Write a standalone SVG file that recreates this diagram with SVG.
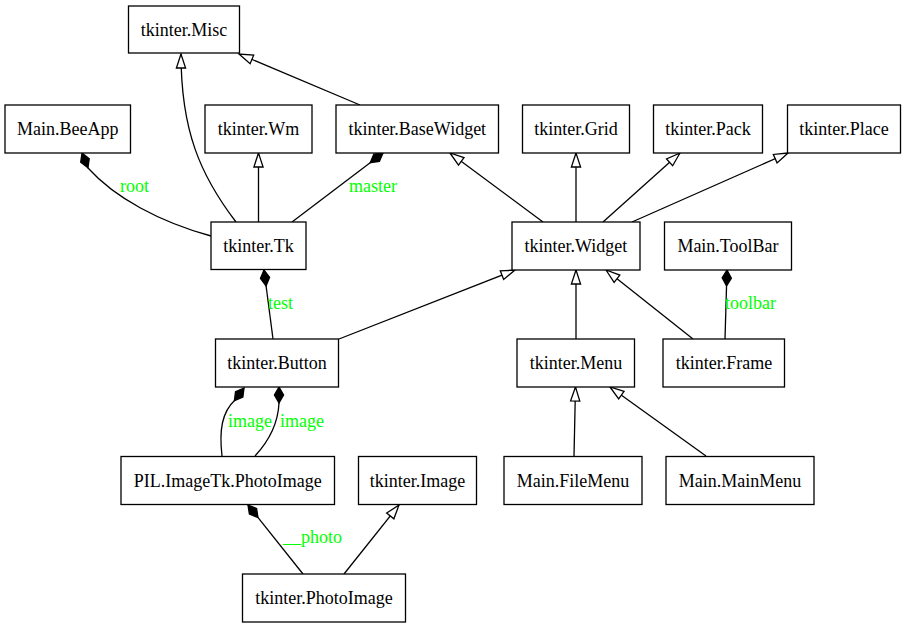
<svg xmlns="http://www.w3.org/2000/svg" width="906" height="628" viewBox="0 0 906 628">
<style>
.n rect{fill:#fff;stroke:#000;stroke-width:1.3}
.n text{font-size:18px;fill:#000;text-anchor:middle}
.e path{fill:none;stroke:#000;stroke-width:1.3}
.inh{marker-end:url(#tri)}
.comp{marker-end:url(#dia)}
.lbl{font-size:18px;fill:#00ff00}
</style>
<defs>
<marker id="tri" markerUnits="userSpaceOnUse" markerWidth="18" markerHeight="12" viewBox="-16 -6 18 12" refX="0" refY="0" orient="auto" overflow="visible">
<path d="M0,0 L-14,-4.6 L-14,4.6 Z" fill="#fff" stroke="#000" stroke-width="1.3"/>
</marker>
<marker id="dia" markerUnits="userSpaceOnUse" markerWidth="18" markerHeight="12" viewBox="-17 -6 18 12" refX="0" refY="0" orient="auto" overflow="visible">
<path d="M0,0 L-8,-4.6 L-16,0 L-8,4.6 Z" fill="#000" stroke="#000" stroke-width="1.3"/>
</marker>
</defs>
<rect width="906" height="628" fill="#fff"/>
<g font-family="Liberation Serif, Times New Roman, DejaVu Serif, serif">
<g id="edges" class="e">
<path class="inh" d="M236,222 C200,175 181,130 181,54"/>
<path class="inh" d="M360,105 L239,54"/>
<path class="inh" d="M258.5,222 L258.5,153"/>
<path class="comp" d="M211,236 C160,222 115,198 88,168 L82,153"/>
<path class="comp" d="M292,222 L383,153"/>
<path class="comp" d="M273,339 L264,270"/>
<path class="inh" d="M543,222 L450,153"/>
<path class="inh" d="M576,222 L576,153"/>
<path class="inh" d="M603,222 L680,153"/>
<path class="inh" d="M632,222 L788,153"/>
<path class="inh" d="M339,339 L515,270"/>
<path class="inh" d="M576,339 L576,270"/>
<path class="inh" d="M693,339 L606,270"/>
<path class="comp" d="M725,339 L727,270"/>
<path class="comp" d="M222,456 C219,430 222,412 235,400 L244,388"/>
<path class="comp" d="M255,456 C268,442 278,425 279,403 L279,387"/>
<path class="comp" d="M303,574 L248,505"/>
<path class="inh" d="M344,574 L399,505"/>
<path class="inh" d="M574,456 L575.5,387"/>
<path class="inh" d="M706,456 L610,387"/>
<text class="lbl" x="120" y="192">root</text>
<text class="lbl" x="349" y="192">master</text>
<text class="lbl" x="268" y="309">test</text>
<text class="lbl" x="725" y="309">toolbar</text>
<text class="lbl" x="228" y="427">image</text>
<text class="lbl" x="280" y="427">image</text>
<text class="lbl" x="283" y="543">__photo</text>
</g>

<g id="misc" class="n"><rect x="128.5" y="6" width="111" height="47"/><text x="184" y="35.5">tkinter.Misc</text></g>
<g id="beeapp" class="n"><rect x="5" y="105" width="125.5" height="48"/><text x="67.75" y="135">Main.BeeApp</text></g>
<g id="wm" class="n"><rect x="205" y="105" width="107" height="48"/><text x="258.5" y="135">tkinter.Wm</text></g>
<g id="basewidget" class="n"><rect x="336" y="105" width="162.5" height="48"/><text x="417.25" y="135">tkinter.BaseWidget</text></g>
<g id="grid" class="n"><rect x="522.5" y="105" width="107" height="48"/><text x="576" y="135">tkinter.Grid</text></g>
<g id="pack" class="n"><rect x="653.5" y="105" width="109" height="48"/><text x="708" y="135">tkinter.Pack</text></g>
<g id="place" class="n"><rect x="787.5" y="105" width="113" height="48"/><text x="844" y="135">tkinter.Place</text></g>
<g id="tk" class="n"><rect x="211" y="222" width="95" height="47.5"/><text x="258.5" y="252">tkinter.Tk</text></g>
<g id="widget" class="n"><rect x="512" y="222" width="128" height="48"/><text x="576" y="252">tkinter.Widget</text></g>
<g id="toolbar" class="n"><rect x="664.5" y="222" width="127" height="48"/><text x="728" y="252">Main.ToolBar</text></g>
<g id="button" class="n"><rect x="215.5" y="339" width="123" height="48"/><text x="277" y="369">tkinter.Button</text></g>
<g id="menu" class="n"><rect x="517" y="339" width="117.5" height="48"/><text x="576" y="369">tkinter.Menu</text></g>
<g id="frame" class="n"><rect x="663" y="339" width="121.5" height="48"/><text x="724" y="369">tkinter.Frame</text></g>
<g id="pilphotoimage" class="n"><rect x="121" y="456.5" width="213.5" height="48"/><text x="227.75" y="486.5">PIL.ImageTk.PhotoImage</text></g>
<g id="image" class="n"><rect x="358.5" y="456.5" width="118" height="48"/><text x="417.5" y="486.5">tkinter.Image</text></g>
<g id="filemenu" class="n"><rect x="504" y="456.5" width="138" height="48"/><text x="573" y="486.5">Main.FileMenu</text></g>
<g id="mainmenu" class="n"><rect x="666" y="456.5" width="148" height="48"/><text x="740" y="486.5">Main.MainMenu</text></g>
<g id="photoimage" class="n"><rect x="242.5" y="574" width="163" height="48"/><text x="324" y="604">tkinter.PhotoImage</text></g>
</g>
</svg>
